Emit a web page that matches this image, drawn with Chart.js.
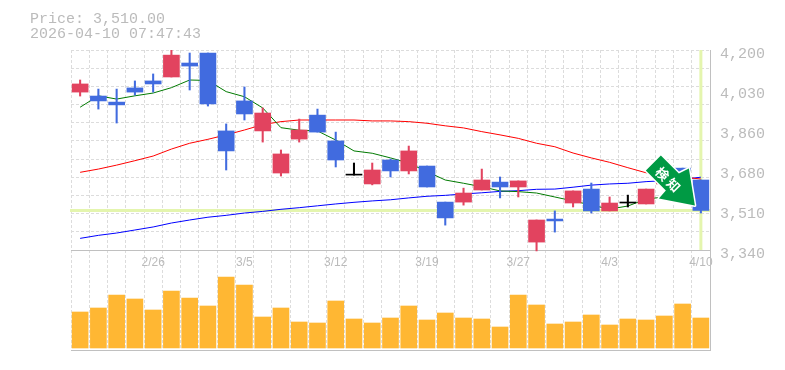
<!DOCTYPE html>
<html>
<head>
<meta charset="utf-8">
<style>
  html, body { margin: 0; padding: 0; background: #fff; }
</style>
<script src="https://cdn.jsdelivr.net/npm/chart.js@4/dist/chart.umd.min.js"></script>
</head>
<body>
<canvas id="chart" width="785" height="370"></canvas>
<script>
const dates = ['2/19','2/20','2/24','2/25','2/26','2/27','3/2','3/3','3/4','3/5','3/6','3/9','3/10','3/11','3/12','3/13','3/16','3/17','3/18','3/19','3/23','3/24','3/25','3/26','3/27','3/30','3/31','4/1','4/2','4/3','4/6','4/7','4/8','4/9','4/10'];
const labeledDates = ['2/26','3/5','3/12','3/19','3/27','4/3','4/10'];

const opens  = [4019,4002,3976,4037,4067,4084,4144,4187,3852,3981,3852,3671,3817,3920,3809,3662,3624,3727,3680,3701,3546,3546,3598,3632,3611,3374,3473,3542,3602,3508,3542,3538,3624,3692,3641];
const closes = [4054,3981,3964,4019,4054,4178,4131,3968,3766,3925,3929,3753,3856,3847,3727,3662,3684,3680,3766,3611,3478,3585,3641,3611,3637,3469,3465,3594,3508,3542,3542,3602,3680,3671,3510];
const highs  = [4071,4032,4032,4067,4097,4200,4187,4187,3882,4041,3951,3770,3903,3946,3847,3714,3714,3731,3787,3701,3546,3606,3688,3654,3637,3469,3508,3594,3628,3568,3576,3602,3690,3692,3641];
const lows   = [4002,3946,3886,4006,4019,4084,4028,3959,3684,3899,3804,3658,3804,3847,3697,3662,3620,3654,3667,3611,3447,3533,3598,3564,3568,3336,3417,3525,3499,3508,3525,3538,3620,3660,3499];
const volumes = [36,40,53,49,38,57,50,42,71,63,31,40,26,25,47,29,25,30,42,28,35,30,29,21,53,43,24,26,33,23,29,28,32,44,30];

const maShort = [3954,4003,3989,4003,4015,4038,4071,4069,4021,3999,3951,3866,3855,3852,3813,3766,3756,3736,3714,3677,3641,3627,3612,3594,3591,3585,3568,3551,3533,3516,3529,3559,3568,3602,3594];
const maMid   = [3674,3688,3705,3724,3744,3774,3799,3816,3835,3856,3879,3892,3899,3899,3899,3899,3895,3895,3892,3885,3874,3865,3849,3835,3820,3799,3784,3757,3736,3717,3694,3672,3662,3654,3645];
const maLong  = [3390,3403,3413,3426,3439,3456,3469,3481,3489,3499,3506,3515,3522,3530,3538,3545,3551,3556,3564,3571,3575,3581,3586,3592,3595,3601,3602,3610,3619,3624,3627,3634,3638,3644,3653];

const currentPrice = 3510;
const priceTitle = 'Price: 3,510.00';
const timeTitle = '2026-04-10 07:47:43';
const signalText = ['検', '知'];

const gridTicks = [3340,3418.2,3496.4,3574.5,3652.7,3730.9,3809.1,3887.3,3965.5,4043.6,4121.8,4200];
const labelTicks = [3340,3512,3684,3856,4028,4200];
const tickTexts = ['3,340','3,510','3,680','3,860','4,030','4,200'];

const UP = '#e2435f', DOWN = '#416bdf', FLAT = '#000000';
const GRID = '#dcdcdc', AXIS = '#c0c0c0', TEXT = '#bbbbbb', CURSOR = '#e4f5ae';

const candleColor = closes.map((c, i) => c > opens[i] ? UP : c < opens[i] ? DOWN : FLAT);
const bodies = opens.map((o, i) => [Math.min(o, closes[i]), Math.max(o, closes[i])]);
const wicks = lows.map((l, i) => [l, highs[i]]);

function line(data, color, order) {
    return {type: 'line', data, borderColor: color, borderWidth: 1, pointRadius: 0, tension: 0, yAxisID: 'y', order};
}

// crosshair on the latest price, under the candles
const priceCursor = {
    id: 'priceCursor',
    beforeDatasetsDraw(chart) {
        const {ctx, chartArea, scales} = chart;
        const px = scales.x.getPixelForValue(dates.length - 1);
        const py = scales.y.getPixelForValue(currentPrice);
        ctx.save();
        ctx.strokeStyle = CURSOR;
        ctx.lineWidth = 3;
        ctx.beginPath();
        ctx.moveTo(chartArea.left - 1, py);
        ctx.lineTo(chartArea.right, py);
        ctx.moveTo(px, scales.y.getPixelForValue(4200));
        ctx.lineTo(px, scales.y.getPixelForValue(3340));
        ctx.stroke();
        ctx.restore();
    }
};

// green arrow pointing at the last candle
const signalArrow = {
    id: 'signalArrow',
    afterDatasetsDraw(chart) {
        const {ctx, scales} = chart;
        const tipX = scales.x.getPixelForValue(dates.length - 1) - 6;
        const tipY = scales.y.getPixelForValue(currentPrice) - 5;
        const outline = [[0,0],[-36,-7],[-29,-15],[-49,-35],[-34,-50],[-16,-32],[-6,-37]];
        ctx.save();
        ctx.translate(tipX, tipY);
        ctx.beginPath();
        outline.forEach(([x, y], i) => i ? ctx.lineTo(x, y) : ctx.moveTo(x, y));
        ctx.closePath();
        ctx.lineJoin = 'round';
        ctx.lineWidth = 3;
        ctx.strokeStyle = '#ffffff';
        ctx.stroke();
        ctx.fillStyle = '#009a44';
        ctx.fill();
        ctx.fillStyle = '#ffffff';
        ctx.font = 'bold 13px "Noto Sans CJK JP"';
        ctx.textAlign = 'center';
        ctx.textBaseline = 'middle';
        ctx.translate(-27, -26);
        ctx.rotate(Math.PI / 4);
        ctx.fillText(signalText[0], -8, 0);
        ctx.fillText(signalText[1], 8, 0);
        ctx.restore();
    }
};

new Chart(document.getElementById('chart'), {
    type: 'bar',
    data: {
        labels: dates,
        datasets: [
            {data: volumes, backgroundColor: '#ffb733', barThickness: 16, yAxisID: 'yVol', order: 6},
            line(maLong, '#0000ff', 5),
            line(maMid, '#ff0000', 4),
            line(maShort, '#007a00', 3),
            {data: wicks, backgroundColor: candleColor, barThickness: 1.4, yAxisID: 'y', order: 2},
            {data: bodies, backgroundColor: candleColor, barThickness: 16, minBarLength: 1, yAxisID: 'y', order: 1}
        ]
    },
    options: {
        responsive: false,
        animation: false,
        layout: {padding: {left: 30, right: 0, top: 0, bottom: 20}},
        datasets: {bar: {grouped: false, borderWidth: 0}},
        plugins: {
            legend: {display: false},
            tooltip: {enabled: false},
            title: {
                display: true,
                text: [priceTitle, timeTitle],
                align: 'start',
                color: TEXT,
                font: {family: '"Liberation Mono"', size: 15, weight: 'normal', lineHeight: 1},
                padding: {top: 12, bottom: 8}
            }
        },
        scales: {
            x: {
                position: {y: 3340},
                grid: {color: GRID, offset: true, drawTicks: false},
                border: {color: AXIS, width: 1, dash: [3, 2]},
                ticks: {
                    color: TEXT,
                    font: {family: '"Liberation Sans"', size: 12},
                    padding: 5,
                    autoSkip: false,
                    maxRotation: 0,
                    callback(value) {
                        const label = this.getLabelForValue(value);
                        return labeledDates.includes(label) ? label : '';
                    }
                }
            },
            xBase: {
                type: 'category',
                position: 'bottom',
                grid: {display: false},
                border: {color: AXIS, width: 1},
                ticks: {display: false},
                afterFit(scale) { scale.height = 0; }
            },
            y: {
                position: 'right',
                min: 2910,
                max: 4200,
                grid: {
                    drawTicks: false,
                    color: ctx => ctx.tick && gridTicks.includes(ctx.tick.value) ? GRID : 'rgba(0,0,0,0)'
                },
                border: {color: AXIS, width: 1, dash: [3, 2]},
                afterBuildTicks(scale) {
                    const merged = [...new Set([...gridTicks, ...labelTicks])].sort((a, b) => a - b);
                    scale.ticks = merged.map(value => ({value}));
                },
                afterFit(scale) { scale.width = 75; },
                ticks: {
                    color: TEXT,
                    font: {family: '"Liberation Mono"', size: 15},
                    padding: 10,
                    labelOffset: 4,
                    autoSkip: false,
                    callback(value) {
                        const at = labelTicks.indexOf(value);
                        return at >= 0 ? tickTexts[at] : '';
                    }
                }
            },
            yVol: {
                position: 'left',
                min: -2,
                max: 298,
                grid: {display: false},
                border: {display: false},
                ticks: {display: false},
                afterFit(scale) { scale.width = 41; }
            }
        }
    },
    plugins: [priceCursor, signalArrow]
});
</script>
</body>
</html>
